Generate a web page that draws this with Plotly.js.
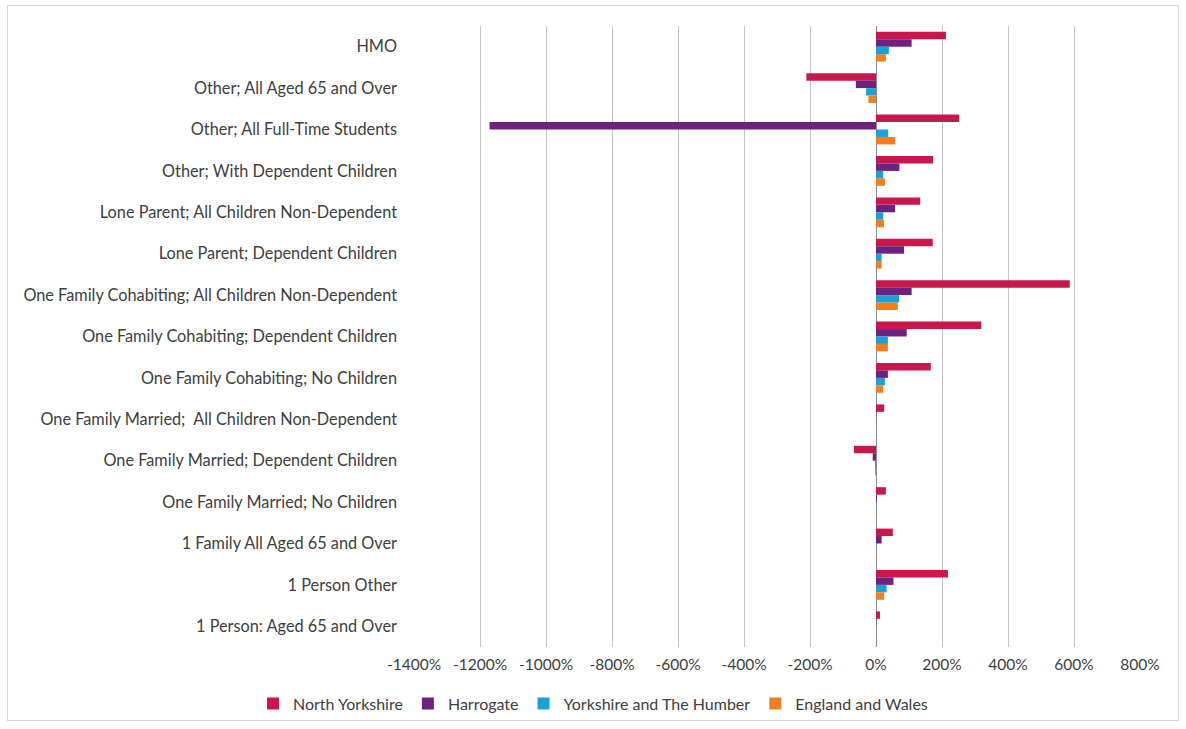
<!DOCTYPE html>
<html><head><meta charset="utf-8">
<script src="https://cdn.plot.ly/plotly-3.0.1.min.js"></script>
<style>
html,body{margin:0;padding:0;background:#fff;}
#wrap{position:relative;width:1186px;height:729px;}
#frame{position:absolute;left:7px;top:5px;width:1170px;height:714px;border:1px solid #d9d9d9;pointer-events:none;}
#chart{position:absolute;left:0;top:0;width:1186px;height:729px;}
</style></head>
<body><div id="wrap"><div id="chart"></div><div id="frame"></div></div>
<script>
const categories = [
  "HMO",
  "Other; All Aged 65 and Over",
  "Other; All Full-Time Students",
  "Other; With Dependent Children",
  "Lone Parent; All Children Non-Dependent",
  "Lone Parent; Dependent Children",
  "One Family Cohabiting; All Children Non-Dependent",
  "One Family Cohabiting; Dependent Children",
  "One Family Cohabiting; No Children",
  "One Family Married;  All Children Non-Dependent",
  "One Family Married; Dependent Children",
  "One Family Married; No Children",
  "1 Family All Aged 65 and Over",
  "1 Person Other",
  "1 Person: Aged 65 and Over"
];
const northYorkshire = [212, -211, 252, 173, 134, 172, 587, 319, 166, 25, -67, 30, 51, 218, 12];
const harrogate      = [108, -61, -1171, 71, 58, 85, 108, 93, 36, 1, -10, 3, 17, 53, 1];
const yorksHumber    = [39, -30, 37, 22, 22, 17, 70, 36, 27, 0, -3, 1, 1, 32, 0];
const englandWales   = [30, -23, 58, 27, 24, 17, 66, 36, 22, 0, -3, 1, 1, 25, 0];
const seriesNames = ["North Yorkshire", "Harrogate", "Yorkshire and The Humber", "England and Wales"];
const seriesColors = ["#C8174A", "#6E2280", "#1BA1DA", "#F07E22"];
const tickVals = [-1400,-1200,-1000,-800,-600,-400,-200,0,200,400,600,800];
const tickText = tickVals.map(v => v + "%");

const allSeries = [northYorkshire, harrogate, yorksHumber, englandWales];
const data = allSeries.map((vals, i) => ({
  type: "bar",
  orientation: "h",
  y: categories,
  x: vals,
  name: seriesNames[i],
  marker: {color: seriesColors[i]},
  hoverinfo: "x+y+name"
}));

const font = "Lato, 'Open Sans', sans-serif";
const layout = {
  width: 1186, height: 729,
  margin: {l: 414, r: 46, t: 26, b: 82},
  paper_bgcolor: "rgba(0,0,0,0)",
  plot_bgcolor: "#fff",
  barmode: "group",
  bargap: 0.28,
  bargroupgap: 0,
  font: {family: font, size: 16, color: "#404040"},
  xaxis: {
    range: [-1400, 800],
    tickvals: tickVals, ticktext: tickText,
    showgrid: true, gridcolor: "#c4c4c4", gridwidth: 1,
    zeroline: true, zerolinecolor: "#8c8c8c", zerolinewidth: 1,
    showline: false, ticks: "", ticklabelstandoff: 6,
    tickfont: {family: font, size: 15.5, color: "#404040"},
    fixedrange: true
  },
  yaxis: {
    type: "category",
    autorange: "reversed",
    showgrid: false, zeroline: false, showline: false,
    ticks: "", ticklabelstandoff: 16,
    tickfont: {family: font, size: 16.3, color: "#404040"},
    fixedrange: true
  },
  showlegend: true,
  legend: {
    orientation: "h", x: 0.5, xanchor: "center", xref: "container",
    y: 0.058, yanchor: "top", yref: "container",
    font: {family: font, size: 16, color: "#404040"},
    itemwidth: 30, traceorder: "normal"
  }
};
Plotly.newPlot("chart", data, layout, {displayModeBar: false, staticPlot: true});
</script></body></html>
